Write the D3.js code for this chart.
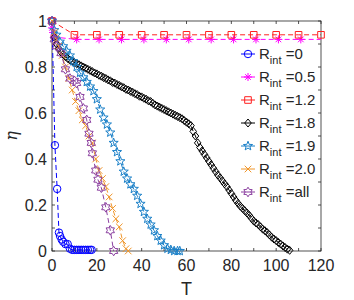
<!DOCTYPE html>
<html>
<head>
<meta charset="utf-8">
<script src="https://cdn.jsdelivr.net/npm/d3@7"></script>
<style>
  body { margin: 0; background: #fff; }
  text { font-family: "Liberation Sans", Arial, sans-serif; fill: #262626; }
</style>
</head>
<body>
<div id="chart"></div>
<script>
// --- datos ---
const tR0   = [0, 1.3, 2.3, 3.1, 3.6, 4.3, 5, 6, 7, 8, 9, 10, 11, 12, 13, 14, 15, 16, 17, 17.7];
const etaR0 = [1, 0.46, 0.27, 0.08, 0.065, 0.05, 0.04, 0.03, 0.03, 0.01, 0.005, 0.005, 0.005, 0.005, 0.005, 0.005, 0.005, 0.005, 0.005, 0.005];

const tR05   = [0, 0.5, 1, 11, 21, 31, 41, 51, 61, 71, 81, 91, 101, 111, 120];
const etaR05 = [0.97, 0.95, 0.93, 0.92, 0.92, 0.92, 0.92, 0.92, 0.92, 0.92, 0.92, 0.92, 0.92, 0.92, 0.92];

const tR12   = [0, 10, 20, 30, 40, 50, 60, 70, 80, 90, 100, 110, 120];
const etaR12 = [1, 0.94, 0.94, 0.94, 0.94, 0.94, 0.94, 0.94, 0.94, 0.94, 0.94, 0.94, 0.94];

const tR18   = [0, 1, 2, 3, 4, 5, 6, 7, 8, 9, 10, 11, 12, 13, 14, 15, 16, 17, 18, 19,
                20, 21, 22, 23, 24, 25, 26, 27, 28, 29, 30, 31, 32, 33, 34, 35, 36, 37, 38, 39,
                40, 41, 42, 43, 44, 45, 46, 47, 48, 49, 50, 51, 52, 53, 54, 55, 56, 57, 58, 59,
                60, 61, 62, 63, 64, 65, 66, 67, 68, 69, 70, 71, 72, 73, 74, 75, 76, 77, 78, 79,
                80, 81, 82, 83, 84, 85, 86, 87, 88, 89, 90, 91, 92, 93, 94, 95, 96, 97, 98, 99,
                100, 101, 102, 103, 104, 105, 106];
const etaR18 = [1, 0.93, 0.90, 0.88, 0.865, 0.855, 0.845, 0.837, 0.83, 0.825, 0.82, 0.815, 0.81, 0.805, 0.80, 0.795, 0.79, 0.785, 0.78, 0.774,
                0.77, 0.764, 0.76, 0.754, 0.75, 0.744, 0.74, 0.733, 0.73, 0.724, 0.72, 0.714, 0.71, 0.703, 0.70, 0.694, 0.69, 0.684, 0.68, 0.673,
                0.67, 0.664, 0.66, 0.653, 0.65, 0.642, 0.635, 0.63, 0.625, 0.62, 0.615, 0.61, 0.605, 0.60, 0.595, 0.59, 0.585, 0.58, 0.575, 0.567,
                0.56, 0.553, 0.545, 0.52, 0.50, 0.47, 0.45, 0.435, 0.42, 0.405, 0.39, 0.375, 0.36, 0.345, 0.33, 0.318, 0.305, 0.292, 0.28, 0.265,
                0.25, 0.235, 0.22, 0.207, 0.195, 0.185, 0.175, 0.165, 0.155, 0.142, 0.13, 0.122, 0.115, 0.105, 0.095, 0.088, 0.08, 0.07, 0.06, 0.052,
                0.045, 0.037, 0.03, 0.022, 0.015, 0.008, 0.003];

const tR19   = [0, 1, 2, 3.5, 5, 6.5, 8, 9.5, 11, 12.5, 14, 15.5, 17, 18.5, 20, 21.5, 23, 24.5, 26, 27.5,
                29, 30.5, 32, 33.5, 35, 36.5, 38, 39.5, 41, 42.5, 44, 45.5, 47, 48.5, 50, 51.5, 53, 54.5, 56, 57];
const etaR19 = [1, 0.96, 0.94, 0.91, 0.89, 0.87, 0.85, 0.825, 0.80, 0.775, 0.755, 0.735, 0.715, 0.695, 0.66, 0.615, 0.58, 0.55, 0.515, 0.47,
                0.43, 0.39, 0.345, 0.315, 0.29, 0.27, 0.24, 0.205, 0.17, 0.14, 0.115, 0.09, 0.065, 0.045, 0.025, 0.01, 0.005, 0, 0, 0];

const tR20   = [0, 1, 2, 3, 4.5, 6, 7.5, 9, 10.5, 12, 13.5, 15, 16.5, 18, 19.5, 21, 22.5, 24, 25.5, 27, 28.5, 30, 31.5, 33, 34];
const etaR20 = [1, 0.95, 0.92, 0.89, 0.85, 0.80, 0.75, 0.70, 0.65, 0.61, 0.57, 0.545, 0.50, 0.47, 0.40, 0.35, 0.315, 0.28, 0.235, 0.185,
                0.14, 0.105, 0.045, 0.01, 0];

const tAll   = [0, 1, 2, 4, 6, 8, 10, 11, 12.5, 14, 15.5, 16.5, 17.5, 18, 19.5, 20.5, 22, 24, 26, 27.5];
const etaAll = [1, 0.92, 0.89, 0.86, 0.79, 0.75, 0.74, 0.73, 0.67, 0.62, 0.57, 0.51, 0.47, 0.425, 0.35, 0.31, 0.275, 0.19, 0.09, 0];

const legendLabels = ["=0", "=0.5", "=1.2", "=1.8", "=1.9", "=2.0", "=all"];
const xTicks = [0, 20, 40, 60, 80, 100, 120];
const yTicks = [0, 0.2, 0.4, 0.6, 0.8, 1];

// --- formas de marcador ---
function starPath(r, points, innerRatio) {
  const pts = [];
  for (let i = 0; i < points * 2; i++) {
    const rr = i % 2 === 0 ? r : r * innerRatio;
    const a = -Math.PI / 2 + i * Math.PI / points;
    pts.push([rr * Math.cos(a), rr * Math.sin(a)]);
  }
  return "M" + pts.map(p => p[0].toFixed(2) + "," + p[1].toFixed(2)).join("L") + "Z";
}
const markers = {
  circle:   () => d3.symbol(d3.symbolCircle, 44)(),
  asterisk: () => { const r = 4, q = r * 0.707;
    return `M${-r},0L${r},0M0,${-r}L0,${r}M${-q},${-q}L${q},${q}M${-q},${q}L${q},${-q}`; },
  square:   () => "M-3.3,-3.3L3.3,-3.3L3.3,3.3L-3.3,3.3Z",
  diamond:  () => "M0,-4L3.3,0L0,4L-3.3,0Z",
  penta:    () => starPath(4.8, 5, 0.42),
  cross:    () => "M-3.3,-3.3L3.3,3.3M-3.3,3.3L3.3,-3.3",
  hexa:     () => starPath(4.8, 6, 0.6)
};

const series = [
  {t: tR0,  eta: etaR0,  color: "#0000FF", marker: "circle"},
  {t: tR05, eta: etaR05, color: "#FF00FF", marker: "asterisk", lastT: 111},
  {t: tR12, eta: etaR12, color: "#FF2020", marker: "square"},
  {t: tR18, eta: etaR18, color: "#000000", marker: "diamond"},
  {t: tR19, eta: etaR19, color: "#1A80C8", marker: "penta"},
  {t: tR20, eta: etaR20, color: "#F0962A", marker: "cross"},
  {t: tAll, eta: etaAll, color: "#8B3FA0", marker: "hexa"}
];

// --- lienzo ---
const W = 354, H = 300;
const margin = {top: 21, right: 33, bottom: 49, left: 52};
const width = W - margin.left - margin.right,
      height = H - margin.top - margin.bottom;

const svg = d3.select("#chart").append("svg")
    .attr("width", W).attr("height", H);
const g = svg.append("g").attr("transform", `translate(${margin.left},${margin.top})`);

const x = d3.scaleLinear().domain([0, 120]).range([0, width]);
const y = d3.scaleLinear().domain([0, 1]).range([height, 0]);

// marco y marcas
const axisColor = "#262626";
g.append("rect").attr("width", width).attr("height", height)
  .attr("fill", "none").attr("stroke", axisColor).attr("stroke-width", 0.8);

const minorX = d3.range(0, 121, 10), minorY = d3.range(0, 1.0001, 0.1);
g.selectAll(".tx").data(minorX).enter().append("path")
  .attr("d", d => `M${x(d)},${height}v-3M${x(d)},0v3`)
  .attr("stroke", axisColor).attr("stroke-width", 0.8);
g.selectAll(".ty").data(minorY).enter().append("path")
  .attr("d", d => `M0,${y(d)}h3M${width},${y(d)}h-3`)
  .attr("stroke", axisColor).attr("stroke-width", 0.8);

g.selectAll(".xl").data(xTicks).enter().append("text")
  .attr("x", d => x(d)).attr("y", height + 20)
  .attr("text-anchor", "middle").style("font-size", "16px").text(d => d);
g.selectAll(".yl").data(yTicks).enter().append("text")
  .attr("x", -5).attr("y", d => y(d) + 5.5)
  .attr("text-anchor", "end").style("font-size", "16px").text(d => d);

g.append("text").attr("x", width / 2).attr("y", height + 44)
  .attr("text-anchor", "middle").style("font-size", "18px").text("T");
g.append("text").attr("transform", `translate(-35,${height / 2}) rotate(-90)`)
  .attr("text-anchor", "middle").style("font-size", "16px").style("font-style", "italic")
  .style("font-family", "'DejaVu Serif', serif").text("η");

// series
const line = d3.line().x(d => x(d[0])).y(d => y(d[1]));
const plot = g.append("g");
series.forEach(s => {
  const pts = s.t.map((t, i) => [t, s.eta[i]]);
  plot.append("path").datum(pts).attr("d", line)
    .attr("fill", "none").attr("stroke", s.color).attr("stroke-width", 1)
    .attr("stroke-dasharray", "5,3");
  plot.selectAll(null).data(pts.filter(p => s.lastT === undefined || p[0] <= s.lastT))
    .enter().append("path")
    .attr("d", markers[s.marker]())
    .attr("transform", p => `translate(${x(p[0])},${y(p[1])})`)
    .attr("fill", "none").attr("stroke", s.color).attr("stroke-width", 1);
});

// leyenda
const leg = g.append("g").attr("transform", `translate(${248 - margin.left},${54 - margin.top})`);
series.forEach((s, i) => {
  const row = leg.append("g").attr("transform", `translate(0,${i * 23})`);
  row.append("path").attr("d", "M-7,0H7").attr("stroke", s.color).attr("stroke-width", 1);
  row.append("path").attr("d", markers[s.marker]()).attr("fill", "none")
    .attr("stroke", s.color).attr("stroke-width", 1);
  const t = row.append("text").attr("x", 11).attr("y", 5).style("font-size", "15px");
  t.append("tspan").text("R");
  t.append("tspan").attr("dy", 5).style("font-size", "11px").text("int");
  t.append("tspan").attr("dy", -5).text("\u00a0" + legendLabels[i]);
});
</script>
</body>
</html>
